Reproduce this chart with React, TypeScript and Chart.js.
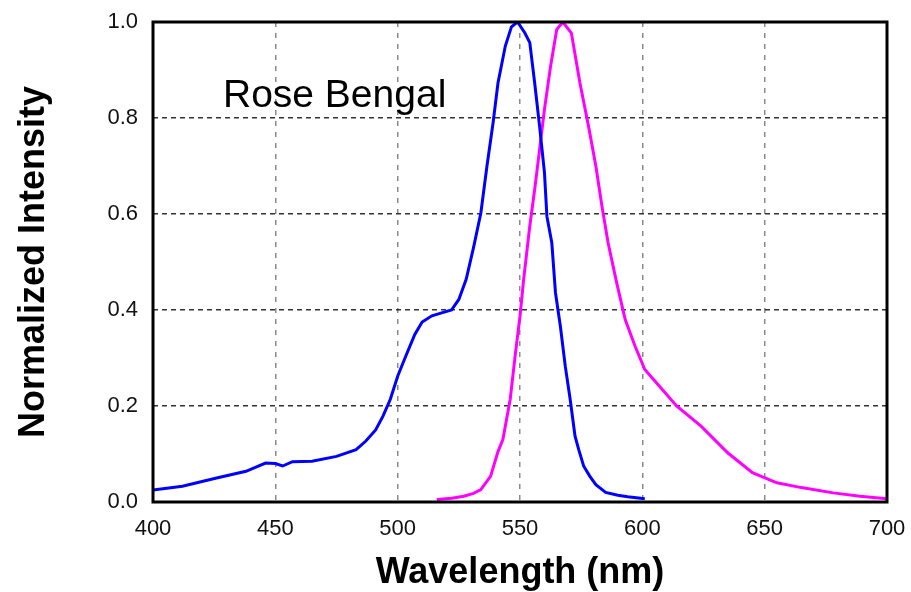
import React, { useEffect, useRef } from "react";
import { Chart, registerables } from "chart.js";

Chart.register(...registerables);

const absWavelengths = [400, 412, 426, 438, 446, 450, 453, 457, 465, 475, 483, 487, 491, 494, 497, 500, 503, 507, 510, 514, 518, 522, 525, 528, 531, 534, 536.5, 539, 541, 544, 546.5, 549, 552, 554, 556, 558, 560, 561, 563, 564.5, 566.5, 568.5, 570.5, 572.5, 574, 576, 578.5, 581, 585, 590, 594, 601];
const absIntensity = [0.025, 0.033, 0.05, 0.064, 0.081, 0.08, 0.075, 0.084, 0.085, 0.095, 0.109, 0.127, 0.15, 0.179, 0.214, 0.262, 0.3, 0.349, 0.375, 0.388, 0.394, 0.4, 0.422, 0.464, 0.53, 0.602, 0.7, 0.79, 0.873, 0.95, 0.99, 1.0, 0.977, 0.957, 0.873, 0.783, 0.686, 0.595, 0.54, 0.436, 0.366, 0.283, 0.214, 0.137, 0.109, 0.075, 0.054, 0.036, 0.02, 0.014, 0.011, 0.007];

const emWavelengths = [516, 522, 527, 531, 534, 538, 541, 543, 546, 548, 550, 551.5, 554, 556, 558, 560, 562.5, 565, 567.5, 571, 574.5, 578, 581, 583.5, 586, 589.5, 593, 597, 601, 607, 614, 624, 635, 645, 655, 665, 678, 689, 700];
const emIntensity = [0.005, 0.008, 0.012, 0.018, 0.026, 0.054, 0.105, 0.13, 0.214, 0.304, 0.387, 0.464, 0.575, 0.651, 0.734, 0.818, 0.908, 0.984, 1.0, 0.977, 0.873, 0.783, 0.7, 0.616, 0.54, 0.457, 0.38, 0.325, 0.276, 0.241, 0.2, 0.158, 0.102, 0.061, 0.04, 0.03, 0.019, 0.012, 0.007];

const seriesNames = ["Absorption", "Emission"];
const seriesColors = ["#0000FF", "#FF00FF"];
const xRange = [400, 700];
const xStep = 50;
const yRange = [0, 1];
const yStep = 0.2;
const xTitle = "Wavelength (nm)";
const yTitle = "Normalized Intensity";
const annotationText = "Rose Bengal";
const annotationAt = [428.6, 0.822];

const FONT = "'Liberation Sans', Arial, sans-serif";

export default function App() {
  const ref = useRef<HTMLCanvasElement | null>(null);
  useEffect(() => {
    if (!ref.current) return;
    const framePlugin = {
      id: "frameAndLabel",
      afterDatasetsDraw(chart: any) {
        const { ctx, chartArea, scales } = chart;
        ctx.save();
        ctx.font = `39px ${FONT}`;
        ctx.fillStyle = "#000";
        ctx.textAlign = "left";
        ctx.textBaseline = "alphabetic";
        ctx.fillText(annotationText, scales.x.getPixelForValue(annotationAt[0]), scales.y.getPixelForValue(annotationAt[1]));
        ctx.strokeStyle = "#000";
        ctx.lineWidth = 3;
        ctx.strokeRect(chartArea.left, chartArea.top, chartArea.right - chartArea.left, chartArea.bottom - chartArea.top);
        ctx.restore();
      },
    };
    const chart = new Chart(ref.current, {
      type: "line",
      data: {
        datasets: [
          {
            label: seriesNames[0],
            data: absWavelengths.map((x, i) => ({ x, y: absIntensity[i] })),
            borderColor: seriesColors[0],
            borderWidth: 3,
            pointRadius: 0,
            tension: 0,
            fill: false,
          },
          {
            label: seriesNames[1],
            data: emWavelengths.map((x, i) => ({ x, y: emIntensity[i] })),
            borderColor: seriesColors[1],
            borderWidth: 3,
            pointRadius: 0,
            tension: 0,
            fill: false,
          },
        ],
      },
      options: {
        animation: false,
        responsive: false,
        layout: { padding: { top: 22, right: 24, left: 0, bottom: 0 } },
        plugins: { legend: { display: false }, tooltip: { enabled: false } },
        scales: {
          x: {
            type: "linear",
            min: xRange[0],
            max: xRange[1],
            afterFit: (s: any) => { s.height = 90; },
            ticks: {
              stepSize: xStep,
              padding: 0,
              color: "#111",
              font: { family: FONT, size: 22 },
              maxRotation: 0,
              callback: (v: any) => String(v),
            },
            grid: { color: "#8a8a8a", lineWidth: 1.5, drawTicks: true, tickLength: 14, tickColor: "rgba(0,0,0,0)" },
            border: { display: false, dash: [5, 6] },
            title: {
              display: true,
              text: xTitle,
              color: "#000",
              font: { family: FONT, size: 36, weight: "bold", lineHeight: 1 },
              padding: { top: 0, bottom: 1 },
            },
          },
          y: {
            type: "linear",
            min: yRange[0],
            max: yRange[1],
            afterFit: (s: any) => { s.width = 153; },
            ticks: {
              stepSize: yStep,
              padding: 0,
              color: "#111",
              font: { family: FONT, size: 22 },
              callback: (v: any) => Number(v).toFixed(1),
            },
            grid: { color: "#333", lineWidth: 1.5, drawTicks: true, tickLength: 15, tickColor: "rgba(0,0,0,0)" },
            border: { display: false, dash: [5, 4] },
            title: {
              display: true,
              text: yTitle,
              color: "#000",
              font: { family: FONT, size: 36, weight: "bold", lineHeight: 1 },
              padding: { top: 16, bottom: 0 },
            },
          },
        },
      },
      plugins: [framePlugin],
    } as any);
    return () => chart.destroy();
  }, []);
  return (
    <div style={{ position: "absolute", left: 0, top: 0, width: 911, height: 592, background: "#fff" }}>
      <canvas ref={ref} width={911} height={592} />
    </div>
  );
}
